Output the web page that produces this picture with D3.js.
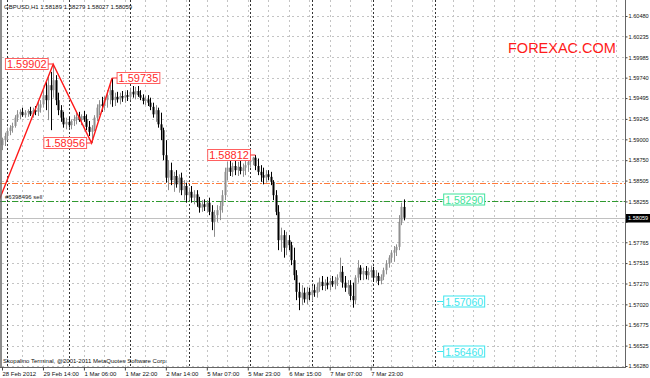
<!DOCTYPE html>
<html><head><meta charset="utf-8">
<script src="https://cdn.jsdelivr.net/npm/d3@7"></script>
<style>
body{margin:0;background:#fff}
svg{display:block}
text{font-family:"Liberation Sans",Arial,sans-serif}
</style>
</head><body>
<svg id="c" width="650" height="378"></svg>
<script>
// ---------------- DATA ----------------
const headerText = "GBPUSD,H1  1.58189 1.58279 1.58027 1.58059";
const copyrightText = "Skopalino Terminal, @2001-2011 MetaQuotes Software Corp.";
const watermarkText = "FOREXAC.COM";

const opens = [
1.5893,1.5899,1.5904,1.5910,1.5914,1.5916,1.5926,1.5930,1.5933,1.5929,
1.5932,1.5934,1.5930,1.5935,1.5933,1.5938,1.5942,1.5953,1.5947,1.5965,
1.5959,1.5971,1.5947,1.5935,1.5926,1.5918,1.5921,1.5917,1.5922,1.5924,
1.5927,1.5923,1.5928,1.5924,1.5915,1.5909,1.5914,1.5926,1.5938,1.5942,
1.5940,1.5947,1.5953,1.5959,1.5947,1.5951,1.5948,1.5952,1.5950,1.5953,
1.5951,1.5957,1.5954,1.5958,1.5953,1.5950,1.5946,1.5948,1.5944,1.5939,
1.5930,1.5935,1.5918,1.5911,1.5881,1.5854,1.5863,1.5851,1.5856,1.5846,
1.5854,1.5839,1.5844,1.5833,1.5837,1.5830,1.5834,1.5824,1.5818,1.5822,
1.5819,1.5824,1.5813,1.5801,1.5809,1.5815,1.5820,1.5833,1.5861,1.5866,
1.5861,1.5868,1.5863,1.5867,1.5862,1.5866,1.5869,1.5873,1.5875,1.5878,
1.5868,1.5861,1.5857,1.5854,1.5858,1.5855,1.5849,1.5833,1.5813,1.5779,
1.5785,1.5770,1.5779,1.5773,1.5755,1.5737,1.5717,1.5710,1.5716,1.5708,
1.5717,1.5713,1.5719,1.5716,1.5723,1.5729,1.5724,1.5728,1.5725,1.5730,
1.5726,1.5731,1.5734,1.5741,1.5728,1.5722,1.5725,1.5712,1.5707,1.5734,
1.5746,1.5738,1.5742,1.5737,1.5741,1.5743,1.5734,1.5736,1.5730,1.5735,
1.5743,1.5751,1.5758,1.5764,1.5767,1.5771,1.5801,1.58189];

const highs = [
1.5902,1.5908,1.5914,1.5917,1.5920,1.5929,1.5935,1.5936,1.5938,1.5935,
1.5936,1.5939,1.5938,1.5940,1.5945,1.5947,1.5959,1.5969,1.5977,1.5981,
1.59902,1.5977,1.5956,1.5941,1.5933,1.5926,1.5927,1.5924,1.5929,1.5932,
1.5933,1.5930,1.5934,1.5930,1.5922,1.5917,1.5929,1.5942,1.5947,1.5951,
1.5952,1.5959,1.5966,1.59735,1.5956,1.5957,1.5956,1.5958,1.5957,1.5959,
1.5962,1.5964,1.5963,1.5964,1.5959,1.5954,1.5952,1.5953,1.5950,1.5944,
1.5941,1.5938,1.5932,1.5914,1.5899,1.5875,1.5872,1.5861,1.5863,1.5858,
1.5860,1.5851,1.5848,1.5842,1.5844,1.5839,1.5839,1.5831,1.5827,1.5828,
1.5827,1.5830,1.5821,1.5815,1.5821,1.5825,1.5839,1.5866,1.5873,1.5875,
1.5872,1.5875,1.5873,1.5874,1.5871,1.5875,1.5878,1.5880,1.5879,1.58812,
1.5877,1.5869,1.5866,1.5863,1.5863,1.5861,1.5851,1.5839,1.5821,1.5794,
1.5791,1.5789,1.5785,1.5777,1.5770,1.5743,1.5728,1.5725,1.5722,1.5723,
1.5722,1.5724,1.5726,1.5728,1.5734,1.5736,1.5732,1.5735,1.5734,1.5736,
1.5735,1.5738,1.5758,1.5748,1.5736,1.5731,1.5731,1.5728,1.5737,1.5755,
1.5749,1.5746,1.5748,1.5746,1.5748,1.5747,1.5743,1.5740,1.5738,1.5746,
1.5755,1.5761,1.5767,1.5772,1.5774,1.5809,1.5824,1.58279];

const lows = [
1.5887,1.5892,1.5899,1.5905,1.5908,1.5914,1.5921,1.5924,1.5927,1.5926,
1.5927,1.5928,1.5926,1.5929,1.5928,1.5932,1.5938,1.5935,1.5923,1.5911,
1.5950,1.5941,1.5929,1.5921,1.5914,1.5912,1.5914,1.5912,1.5916,1.5918,
1.5921,1.5917,1.5921,1.5911,1.5904,1.58956,1.5910,1.5922,1.5929,1.5933,
1.5935,1.5938,1.5942,1.5939,1.5940,1.5944,1.5942,1.5945,1.5944,1.5946,
1.5947,1.5950,1.5948,1.5951,1.5947,1.5942,1.5941,1.5940,1.5935,1.5926,
1.5921,1.5914,1.5899,1.5875,1.5848,1.5839,1.5845,1.5837,1.5842,1.5836,
1.5833,1.5827,1.5824,1.5827,1.5824,1.5822,1.5819,1.5812,1.5813,1.5814,
1.5812,1.5809,1.5791,1.5783,1.5801,1.5803,1.5812,1.5827,1.5851,1.5856,
1.5855,1.5857,1.5856,1.5858,1.5855,1.5857,1.5861,1.5866,1.5869,1.5863,
1.5857,1.5849,1.5846,1.5848,1.5851,1.5845,1.5827,1.5809,1.5767,1.5765,
1.5758,1.5761,1.5767,1.5749,1.5731,1.5707,1.5695,1.5701,1.5704,1.5702,
1.5707,1.5706,1.5711,1.5710,1.5717,1.5719,1.5718,1.5720,1.5719,1.5723,
1.5720,1.5724,1.5729,1.5722,1.5717,1.5714,1.5707,1.5698,1.5702,1.5728,
1.5731,1.5731,1.5732,1.5731,1.5734,1.5729,1.5728,1.5725,1.5726,1.5731,
1.5738,1.5746,1.5752,1.5753,1.5760,1.5767,1.5797,1.58027];

const closes = [
1.5899,1.5904,1.5910,1.5914,1.5916,1.5926,1.5930,1.5933,1.5929,1.5932,
1.5934,1.5930,1.5935,1.5933,1.5938,1.5942,1.5953,1.5947,1.5965,1.5959,
1.5971,1.5947,1.5935,1.5926,1.5918,1.5921,1.5917,1.5922,1.5924,1.5927,
1.5923,1.5928,1.5924,1.5915,1.5909,1.5914,1.5926,1.5938,1.5942,1.5940,
1.5947,1.5953,1.5959,1.5947,1.5951,1.5948,1.5952,1.5950,1.5953,1.5951,
1.5957,1.5954,1.5958,1.5953,1.5950,1.5946,1.5948,1.5944,1.5939,1.5930,
1.5935,1.5918,1.5911,1.5881,1.5854,1.5863,1.5851,1.5856,1.5846,1.5854,
1.5839,1.5844,1.5833,1.5837,1.5830,1.5834,1.5824,1.5818,1.5822,1.5819,
1.5824,1.5813,1.5801,1.5809,1.5815,1.5820,1.5833,1.5861,1.5866,1.5861,
1.5868,1.5863,1.5867,1.5862,1.5866,1.5869,1.5873,1.5875,1.5878,1.5868,
1.5861,1.5857,1.5854,1.5858,1.5855,1.5849,1.5833,1.5813,1.5779,1.5785,
1.5770,1.5779,1.5773,1.5755,1.5737,1.5717,1.5710,1.5716,1.5708,1.5717,
1.5713,1.5719,1.5716,1.5723,1.5729,1.5724,1.5728,1.5725,1.5730,1.5726,
1.5731,1.5734,1.5741,1.5728,1.5722,1.5725,1.5712,1.5707,1.5734,1.5746,
1.5738,1.5742,1.5737,1.5741,1.5743,1.5734,1.5736,1.5730,1.5735,1.5743,
1.5751,1.5758,1.5764,1.5767,1.5771,1.5801,1.5819,1.58059];

const priceTicks = [1.60480,1.60235,1.59985,1.59740,1.59495,1.59245,1.59000,1.58750,1.58505,
  1.58255,1.58010,1.57765,1.57515,1.57270,1.57020,1.56775,1.56525,1.56280];

const timeLabels = ["28 Feb 2012","29 Feb 14:00","1 Mar 06:00","1 Mar 22:00","2 Mar 14:00",
  "5 Mar 07:00","5 Mar 23:00","6 Mar 15:00","7 Mar 07:00","7 Mar 23:00"];
const timeLabelBars = [0,16,32,48,64,80,96,112,128,144];
const separatorBars = [2,26,50,73,97,121,145,169];

const zigzagBars = [-2,20,35,43];
const zigzagPrices = [1.5820,1.59902,1.58956,1.59735];

const peakLabels = ["1.59902","1.58956","1.59735","1.58812"];
const peakBars = [20,35,43,99];
const peakPrices = [1.59902,1.58956,1.59735,1.58812];
const peakSides = ["left","left","right","left"];

const levelLabels = ["1.58290","1.57060","1.56460"];
const levelPrices = [1.58290,1.57060,1.56460];
const levelColors = ["#3fe39a","#3ee6ee","#3ee6ee"];
const levelBar = 170;

const orderText = "#6398496 sell";
const orderPrice = 1.58260;
const stopPrice = 1.58475;
const bidPrice = 1.58059;

// ---------------- DRAW ----------------
const W = 650, H = 378, plotR = 625, plotB = 367;
const svg = d3.select("#c");
const x = d3.scaleLinear().domain([0, 169]).range([2, 2 + 169 * 2.56]);
const y = d3.scaleLinear().domain([1.56280, 1.60480]).range([366, 16]);

svg.append("rect").attr("width", W).attr("height", H).attr("fill", "#fff");
svg.append("defs").append("clipPath").attr("id", "clip")
  .append("rect").attr("x", 0).attr("y", 0).attr("width", plotR).attr("height", plotB);
const plot = svg.append("g").attr("clip-path", "url(#clip)");

// horizontal grid
plot.selectAll(".hg").data(priceTicks).join("line")
  .attr("x1", 2).attr("x2", plotR)
  .attr("y1", d => Math.round(y(d)) + 0.5).attr("y2", d => Math.round(y(d)) + 0.5)
  .attr("stroke", "#c4c4c4").attr("stroke-dasharray", "2,3");
// vertical grid every 8 bars
const gridBars = d3.range(8, 246, 8);
plot.selectAll(".vg").data(gridBars).join("line")
  .attr("x1", d => Math.round(x(d)) + 0.5).attr("x2", d => Math.round(x(d)) + 0.5)
  .attr("y1", 0).attr("y2", plotB)
  .attr("stroke", "#c4c4c4").attr("stroke-dasharray", "2,3");
// day separators
plot.selectAll(".sep").data(separatorBars).join("line")
  .attr("x1", d => Math.round(x(d)) + 0.5).attr("x2", d => Math.round(x(d)) + 0.5)
  .attr("y1", 0).attr("y2", plotB)
  .attr("stroke", "#333").attr("stroke-dasharray", "2,2");

// bid line
plot.append("line").attr("x1", 0).attr("x2", plotR)
  .attr("y1", Math.round(y(bidPrice)) + 0.5).attr("y2", Math.round(y(bidPrice)) + 0.5)
  .attr("stroke", "#c0c0c0");
// stop / order lines
plot.append("line").attr("x1", 0).attr("x2", plotR)
  .attr("y1", Math.round(y(stopPrice)) + 0.5).attr("y2", Math.round(y(stopPrice)) + 0.5)
  .attr("stroke", "#ff7a3a").attr("stroke-dasharray", "6,2,2,2");
plot.append("line").attr("x1", 0).attr("x2", plotR)
  .attr("y1", Math.round(y(orderPrice)) + 0.5).attr("y2", Math.round(y(orderPrice)) + 0.5)
  .attr("stroke", "#2f9a2f").attr("stroke-dasharray", "6,2,2,2");
plot.append("text").attr("x", 5).attr("y", Math.round(y(orderPrice)) - 2)
  .attr("font-size", 6).attr("fill", "#222").text(orderText);

// candles
const bars = opens.map((o, i) => ({i, o, h: highs[i], l: lows[i], c: closes[i]}));
const cg = plot.append("g");
bars.forEach(b => {
  const cx = Math.round(x(b.i));
  const bull = b.c >= b.o;
  const col = bull ? "#8e8e8e" : "#000";
  cg.append("line").attr("x1", cx + 0.5).attr("x2", cx + 0.5)
    .attr("y1", y(b.h)).attr("y2", y(b.l)).attr("stroke", col).attr("stroke-width", 1);
  const top = y(Math.max(b.o, b.c)), bot = y(Math.min(b.o, b.c));
  cg.append("rect").attr("x", cx - 0.5).attr("width", 2)
    .attr("y", top).attr("height", Math.max(1, bot - top)).attr("fill", col);
});

// zigzag
const zz = zigzagBars.map((b, i) => [x(b), y(zigzagPrices[i])]);
plot.append("path").attr("d", d3.line()(zz)).attr("fill", "none")
  .attr("stroke", "#ff1a1a").attr("stroke-width", 1.4);

// peak labels
peakLabels.forEach((t, i) => {
  const px = x(peakBars[i]), py = y(peakPrices[i]);
  const g = plot.append("g");
  const txt = g.append("text").attr("font-size", 11).attr("fill", "#ff2a2a").text(t);
  const w = txt.node().getComputedTextLength() + 3;
  const lead = 5;
  const bx = peakSides[i] === "left" ? px - lead - w : px + lead;
  const by = Math.round(py) - 5.5;
  g.insert("rect", "text").attr("x", bx).attr("y", by).attr("width", w).attr("height", 11)
    .attr("fill", "#fff").attr("stroke", "#ff6060").attr("stroke-width", 1);
  txt.attr("x", bx + 1.5).attr("y", by + 9.5);
  g.append("line").attr("x1", peakSides[i] === "left" ? bx + w : px)
    .attr("x2", peakSides[i] === "left" ? px : bx)
    .attr("y1", by + 5.5).attr("y2", by + 5.5).attr("stroke", "#ff2a2a");
});

// level labels
levelLabels.forEach((t, i) => {
  const px = x(levelBar), py = Math.round(y(levelPrices[i]));
  const col = levelColors[i];
  const g = plot.append("g");
  g.append("line").attr("x1", px).attr("x2", px + 6).attr("y1", py + 0.5).attr("y2", py + 0.5)
    .attr("stroke", col);
  const txt = g.append("text").attr("font-size", 10.5).attr("fill", col).text(t);
  const w = txt.node().getComputedTextLength() + 3;
  g.insert("rect", "text").attr("x", px + 6.5).attr("y", py - 5).attr("width", w).attr("height", 11)
    .attr("fill", "#fff").attr("stroke", col);
  txt.attr("x", px + 8).attr("y", py + 4.5);
});

// watermark
plot.append("text").attr("x", 508).attr("y", 53).attr("font-size", 14.5)
  .attr("fill", "#ff1a1a").text(watermarkText);

// header & copyright
svg.append("text").attr("x", 4).attr("y", 8.5).attr("font-size", 6)
  .attr("fill", "#111").text(headerText);
svg.append("text").attr("x", 3).attr("y", 363).attr("font-size", 6)
  .attr("fill", "#111").text(copyrightText);

// frame
svg.append("line").attr("x1", 1).attr("x2", 1).attr("y1", 0).attr("y2", plotB)
  .attr("stroke", "#666").attr("stroke-width", 1.5);
svg.append("line").attr("x1", 0).attr("x2", plotR + 1).attr("y1", plotB + 0.5).attr("y2", plotB + 0.5)
  .attr("stroke", "#666");

// right axis (the tick hidden under the bid box keeps its mark but no text)
const bidY = Math.round(y(bidPrice));
const ay = d3.axisRight(y).tickValues(priceTicks)
  .tickFormat(d => Math.abs(y(d) - bidY) < 8 ? "" : d3.format(".5f")(d))
  .tickSize(2).tickPadding(1);
const gy = svg.append("g").attr("transform", `translate(${plotR + 0.5},0)`).call(ay);
gy.select(".domain").attr("d", `M0,0V${plotB + 1}`).attr("stroke", "#666");
gy.selectAll("text").attr("font-size", 5.6).attr("fill", "#111")
  .attr("font-family", "'Liberation Sans',Arial,sans-serif");
gy.selectAll("line").attr("stroke", "#444");

// bid box
svg.append("rect").attr("x", plotR + 1).attr("y", bidY - 4).attr("width", 24).attr("height", 8.5).attr("fill", "#000");
svg.append("text").attr("x", plotR + 3).attr("y", bidY + 2.2).attr("font-size", 5.6)
  .attr("fill", "#fff").text(d3.format(".5f")(bidPrice));

// bottom axis
const ax = d3.axisBottom(x).tickValues(timeLabelBars)
  .tickFormat((d, i) => timeLabels[i]).tickSize(3).tickPadding(1);
const gx = svg.append("g").attr("transform", `translate(0,${plotB + 0.5})`).call(ax);
gx.select(".domain").remove();
gx.selectAll("text").attr("text-anchor", "start").attr("font-size", 6).attr("fill", "#111")
  .attr("font-family", "'Liberation Sans',Arial,sans-serif");
gx.selectAll("line").attr("stroke", "#444");
</script>
</body></html>
